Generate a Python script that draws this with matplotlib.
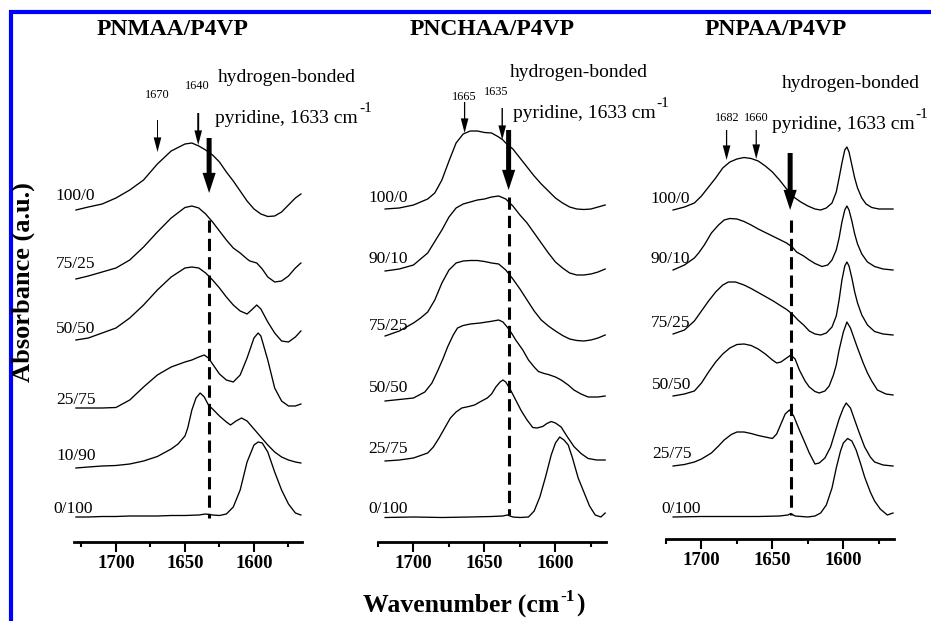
import numpy as np
import matplotlib
matplotlib.use("Agg")
import matplotlib.pyplot as plt
from matplotlib.lines import Line2D

plt.rcParams['font.family'] = ['Liberation Serif', 'DejaVu Serif']

# ---------------- data ----------------
panel_titles = ["PNMAA/P4VP", "PNCHAA/P4VP", "PNPAA/P4VP"]
major_ticks = [1700, 1650, 1600]
minor_ticks = [1725, 1675, 1625, 1575]
tick_labels = ["1700", "1650", "1600"]

pnmaa_ratios = ["100/0", "75/25", "50/50", "25/75", "10/90", "0/100"]
pnchaa_ratios = ["100/0", "90/10", "75/25", "50/50", "25/75", "0/100"]
pnpaa_ratios = ["100/0", "90/10", "75/25", "50/50", "25/75", "0/100"]

# peak markers (label text, wavenumber where the arrow points)
pnmaa_peak_labels = ["1670", "1640"]
pnmaa_peak_wn = [1669.9, 1640.4]
pnchaa_peak_labels = ["1665", "1635"]
pnchaa_peak_wn = [1664.0, 1637.5]
pnpaa_peak_labels = ["1682", "1660"]
pnpaa_peak_wn = [1682.3, 1661.4]
hbond_wn = [1632.5, 1633.0, 1637.0]   # thick arrow / dashed line per panel

# ---- PNMAA/P4VP (stacked absorbance, a.u.) ----
pnmaa_100_0_wn = [1729, 1720, 1710, 1700, 1690, 1680, 1670, 1660, 1650, 1645, 1640, 1635, 1630, 1625,
                  1620, 1615, 1610, 1605, 1600, 1595, 1590, 1585, 1580, 1575, 1570, 1566]
pnmaa_100_0_abs = [3.32, 3.35, 3.38, 3.44, 3.52, 3.62, 3.78, 3.91, 3.98, 3.99, 3.96, 3.92, 3.87, 3.80,
                   3.70, 3.61, 3.51, 3.41, 3.33, 3.28, 3.255, 3.26, 3.30, 3.37, 3.44, 3.48]
pnmaa_75_25_wn = [1729, 1720, 1710, 1700, 1690, 1680, 1670, 1660, 1650, 1645, 1640, 1635, 1630, 1625,
                  1620, 1615, 1610, 1605, 1603, 1598, 1594, 1590, 1585, 1580, 1575, 1570, 1566]
pnmaa_75_25_abs = [2.63, 2.66, 2.70, 2.74, 2.82, 2.95, 3.10, 3.24, 3.345, 3.36, 3.34, 3.28, 3.20, 3.11,
                   3.02, 2.94, 2.89, 2.83, 2.81, 2.79, 2.73, 2.65, 2.60, 2.61, 2.66, 2.74, 2.79]
pnmaa_50_50_wn = [1729, 1720, 1710, 1700, 1690, 1680, 1670, 1660, 1650, 1645, 1640, 1635, 1630, 1625,
                  1620, 1615, 1610, 1605, 1601, 1598, 1595, 1590, 1585, 1580, 1575, 1570, 1566]
pnmaa_50_50_abs = [2.02, 2.04, 2.09, 2.14, 2.24, 2.37, 2.52, 2.65, 2.74, 2.75, 2.74, 2.69, 2.62, 2.54,
                   2.45, 2.37, 2.31, 2.28, 2.33, 2.37, 2.33, 2.20, 2.09, 2.01, 2.00, 2.05, 2.11]
pnmaa_25_75_wn = [1729, 1720, 1710, 1700, 1690, 1680, 1670, 1660, 1650, 1645, 1640, 1636, 1633, 1630,
                  1625, 1620, 1615, 1610, 1605, 1600, 1597, 1595, 1590, 1585, 1580, 1575, 1570, 1566]
pnmaa_25_75_abs = [1.34, 1.34, 1.34, 1.345, 1.42, 1.55, 1.67, 1.75, 1.80, 1.82, 1.85, 1.87, 1.84, 1.78,
                   1.68, 1.62, 1.60, 1.67, 1.84, 2.04, 2.09, 2.06, 1.82, 1.54, 1.41, 1.36, 1.36, 1.38]
pnmaa_10_90_wn = [1729, 1720, 1710, 1700, 1690, 1680, 1670, 1660, 1655, 1650, 1648, 1645, 1642, 1639,
                  1636, 1633, 1630, 1625, 1620, 1617, 1613, 1609, 1605, 1600, 1595, 1590, 1585, 1580,
                  1575, 1570, 1566]
pnmaa_10_90_abs = [0.74, 0.75, 0.76, 0.765, 0.78, 0.81, 0.855, 0.93, 0.98, 1.06, 1.14, 1.32, 1.44, 1.49,
                   1.45, 1.37, 1.33, 1.26, 1.20, 1.17, 1.21, 1.24, 1.21, 1.13, 1.05, 0.97, 0.90, 0.85,
                   0.82, 0.80, 0.79]
pnmaa_0_100_wn = [1729, 1720, 1710, 1700, 1690, 1680, 1670, 1660, 1650, 1640, 1635, 1630, 1625, 1620,
                  1615, 1610, 1605, 1600, 1597, 1594, 1590, 1585, 1580, 1575, 1570, 1566]
pnmaa_0_100_abs = [0.25, 0.25, 0.255, 0.255, 0.26, 0.26, 0.26, 0.265, 0.265, 0.27, 0.28, 0.27, 0.265, 0.28,
                   0.35, 0.52, 0.80, 0.97, 1.00, 0.99, 0.90, 0.70, 0.52, 0.38, 0.29, 0.27]

# ---- PNCHAA/P4VP ----
pnchaa_100_0_wn = [1720, 1710, 1700, 1690, 1685, 1680, 1675, 1670, 1665, 1660, 1655, 1650, 1645, 1640,
                   1637, 1635, 1630, 1625, 1620, 1615, 1610, 1605, 1600, 1595, 1590, 1585, 1580, 1575,
                   1570, 1565]
pnchaa_100_0_abs = [3.33, 3.34, 3.37, 3.43, 3.49, 3.62, 3.81, 3.99, 4.08, 4.11, 4.11, 4.095, 4.09, 4.05,
                    4.02, 3.99, 3.93, 3.84, 3.75, 3.66, 3.58, 3.51, 3.44, 3.39, 3.35, 3.33, 3.325, 3.33,
                    3.35, 3.37]
pnchaa_90_10_wn = [1720, 1710, 1700, 1690, 1680, 1675, 1670, 1665, 1660, 1655, 1650, 1645, 1640, 1635,
                   1630, 1625, 1620, 1615, 1610, 1605, 1600, 1595, 1590, 1585, 1580, 1575, 1570, 1565]
pnchaa_90_10_abs = [2.71, 2.73, 2.77, 2.89, 3.12, 3.25, 3.34, 3.38, 3.40, 3.42, 3.43, 3.45, 3.46, 3.43,
                    3.36, 3.27, 3.19, 3.09, 2.99, 2.89, 2.80, 2.74, 2.69, 2.67, 2.67, 2.68, 2.70, 2.73]
pnchaa_75_25_wn = [1720, 1710, 1700, 1695, 1690, 1685, 1680, 1675, 1670, 1665, 1660, 1655, 1650, 1645,
                   1640, 1635, 1630, 1625, 1620, 1615, 1610, 1605, 1600, 1595, 1590, 1585, 1580, 1575,
                   1570, 1565]
pnchaa_75_25_abs = [2.06, 2.11, 2.19, 2.24, 2.30, 2.42, 2.59, 2.72, 2.79, 2.81, 2.815, 2.815, 2.805, 2.79,
                    2.78, 2.72, 2.63, 2.53, 2.42, 2.31, 2.22, 2.16, 2.11, 2.065, 2.03, 2.015, 2.01, 2.02,
                    2.04, 2.07]
pnchaa_50_50_wn = [1720, 1710, 1700, 1692, 1687, 1683, 1679, 1676, 1672, 1669, 1665, 1660, 1653, 1646,
                   1640, 1637, 1634, 1631, 1628, 1623, 1619, 1615, 1612, 1608, 1605, 1600, 1596, 1591,
                   1587, 1582, 1577, 1570, 1565]
pnchaa_50_50_abs = [1.41, 1.425, 1.44, 1.50, 1.59, 1.71, 1.84, 1.95, 2.07, 2.14, 2.165, 2.18, 2.19, 2.205,
                    2.22, 2.20, 2.15, 2.09, 2.02, 1.92, 1.82, 1.75, 1.705, 1.685, 1.675, 1.65, 1.62, 1.57,
                    1.52, 1.48, 1.45, 1.45, 1.46]
pnchaa_25_75_wn = [1720, 1710, 1700, 1690, 1686, 1682, 1678, 1674, 1670, 1666, 1661, 1657, 1652, 1648,
                   1645, 1642, 1639, 1637, 1635, 1632, 1628, 1624, 1620, 1616, 1613, 1609, 1606, 1603,
                   1600, 1596, 1592, 1587, 1582, 1577, 1571, 1565]
pnchaa_25_75_abs = [0.81, 0.82, 0.84, 0.89, 0.95, 1.04, 1.14, 1.24, 1.30, 1.34, 1.355, 1.37, 1.41, 1.44,
                    1.48, 1.55, 1.60, 1.62, 1.60, 1.53, 1.42, 1.31, 1.22, 1.145, 1.14, 1.155, 1.185, 1.205,
                    1.19, 1.15, 1.06, 0.955, 0.885, 0.835, 0.82, 0.82]
pnchaa_0_100_wn = [1720, 1700, 1680, 1660, 1645, 1637, 1634, 1630, 1625, 1619, 1615, 1611, 1607, 1603,
                   1600, 1597, 1594, 1591, 1588, 1584, 1580, 1576, 1572, 1568, 1565]
pnchaa_0_100_abs = [0.245, 0.25, 0.245, 0.25, 0.255, 0.26, 0.27, 0.25, 0.245, 0.25, 0.31, 0.45, 0.65, 0.87,
                    0.99, 1.05, 1.02, 0.97, 0.84, 0.64, 0.50, 0.36, 0.27, 0.25, 0.29]

# ---- PNPAA/P4VP ----
pnpaa_100_0_wn = [1720, 1712, 1705, 1700, 1695, 1690, 1685, 1680, 1675, 1670, 1665, 1660, 1655, 1650,
                  1645, 1640, 1635, 1630, 1625, 1620, 1616, 1612, 1608, 1605, 1603, 1601, 1599, 1597.5,
                  1596, 1594, 1592, 1590, 1587, 1584, 1580, 1575, 1570, 1565]
pnpaa_100_0_abs = [3.32, 3.35, 3.39, 3.46, 3.55, 3.64, 3.74, 3.80, 3.83, 3.845, 3.835, 3.81, 3.76, 3.70,
                   3.62, 3.53, 3.45, 3.40, 3.36, 3.33, 3.32, 3.34, 3.39, 3.50, 3.64, 3.79, 3.92, 3.95,
                   3.90, 3.77, 3.64, 3.54, 3.44, 3.38, 3.345, 3.33, 3.33, 3.33]
pnpaa_90_10_wn = [1720, 1712, 1705, 1702, 1698, 1693, 1688, 1684, 1680, 1675, 1670, 1665, 1660, 1655,
                  1650, 1645, 1640, 1636, 1633, 1628, 1624, 1620, 1615, 1611, 1608, 1605, 1603, 1601,
                  1599, 1597.5, 1596, 1594, 1592, 1590, 1587, 1583, 1578, 1572, 1565]
pnpaa_90_10_abs = [2.72, 2.77, 2.84, 2.89, 2.97, 3.09, 3.17, 3.22, 3.235, 3.23, 3.205, 3.17, 3.13, 3.095,
                   3.06, 3.025, 2.99, 2.95, 2.90, 2.86, 2.82, 2.785, 2.755, 2.77, 2.82, 2.92, 3.04, 3.20,
                   3.32, 3.36, 3.32, 3.21, 3.08, 2.98, 2.88, 2.80, 2.755, 2.73, 2.72]
pnpaa_75_25_wn = [1720, 1712, 1705, 1700, 1695, 1690, 1685, 1681, 1676, 1670, 1665, 1660, 1655, 1650,
                  1645, 1640, 1636, 1632, 1628, 1624, 1620, 1616, 1612, 1608, 1605, 1603, 1601, 1599,
                  1597.5, 1596, 1594, 1592, 1590, 1587, 1583, 1578, 1572, 1565]
pnpaa_75_25_abs = [2.08, 2.12, 2.21, 2.31, 2.41, 2.50, 2.57, 2.60, 2.60, 2.57, 2.535, 2.495, 2.455, 2.415,
                   2.37, 2.325, 2.28, 2.22, 2.17, 2.11, 2.08, 2.07, 2.09, 2.15, 2.26, 2.42, 2.62, 2.76,
                   2.80, 2.76, 2.64, 2.50, 2.39, 2.27, 2.17, 2.105, 2.08, 2.07]
pnpaa_50_50_wn = [1720, 1712, 1705, 1700, 1695, 1690, 1685, 1680, 1675, 1670, 1665, 1660, 1655, 1650,
                  1647, 1644, 1640, 1637, 1634, 1631, 1627, 1624, 1620, 1617, 1613, 1610, 1607, 1605,
                  1603, 1600, 1597.5, 1595, 1592, 1590, 1586, 1583, 1580, 1576, 1570, 1565]
pnpaa_50_50_abs = [1.46, 1.48, 1.51, 1.59, 1.70, 1.80, 1.88, 1.94, 1.975, 1.98, 1.965, 1.93, 1.88, 1.82,
                   1.79, 1.80, 1.84, 1.87, 1.83, 1.72, 1.61, 1.55, 1.505, 1.49, 1.51, 1.56, 1.67, 1.77,
                   1.92, 2.10, 2.20, 2.14, 2.02, 1.94, 1.79, 1.69, 1.61, 1.52, 1.48, 1.47]
pnpaa_25_75_wn = [1720, 1712, 1705, 1700, 1693, 1688, 1684, 1679, 1675, 1670, 1665, 1660, 1655, 1650,
                  1647, 1644, 1641, 1638, 1635, 1631, 1627, 1624, 1620, 1617, 1613, 1609, 1606, 1603,
                  1600, 1598, 1595, 1592, 1589, 1585, 1581, 1578, 1572, 1565]
pnpaa_25_75_abs = [0.76, 0.775, 0.80, 0.83, 0.89, 0.96, 1.02, 1.075, 1.10, 1.10, 1.085, 1.065, 1.05, 1.035,
                   1.08, 1.18, 1.28, 1.32, 1.26, 1.12, 0.99, 0.89, 0.78, 0.79, 0.84, 0.95, 1.09, 1.23,
                   1.34, 1.39, 1.34, 1.22, 1.10, 0.95, 0.85, 0.80, 0.77, 0.76]
pnpaa_0_100_wn = [1720, 1700, 1680, 1660, 1645, 1639, 1637, 1634, 1625, 1620, 1616, 1612, 1608, 1605,
                  1602, 1600, 1597, 1594, 1591, 1588, 1585, 1581, 1578, 1574, 1569, 1565]
pnpaa_0_100_abs = [0.25, 0.255, 0.255, 0.255, 0.26, 0.27, 0.285, 0.26, 0.25, 0.26, 0.29, 0.37, 0.54, 0.74,
                   0.91, 0.99, 1.035, 1.01, 0.92, 0.79, 0.65, 0.50, 0.41, 0.33, 0.27, 0.29]

# ---------------- figure layout ----------------
W, H = 931, 621
fig = plt.figure(figsize=(W / 100, H / 100), dpi=100)
fig.patch.set_facecolor('white')


def fx(px):
    return px / W


def fy(py):
    return 1 - py / H


panels = [
    dict(title=panel_titles[0], title_x=172.5, left=74, bottom=542, xlim=(1730.4, 1565.2), ylim=(0.0, 4.82),
         curves=[(pnmaa_100_0_wn, pnmaa_100_0_abs), (pnmaa_75_25_wn, pnmaa_75_25_abs),
                 (pnmaa_50_50_wn, pnmaa_50_50_abs), (pnmaa_25_75_wn, pnmaa_25_75_abs),
                 (pnmaa_10_90_wn, pnmaa_10_90_abs), (pnmaa_0_100_wn, pnmaa_0_100_abs)],
         ratios=pnmaa_ratios,
         label_x=[1743.5, 1743.5, 1743.5, 1743.5, 1743.0, 1745.5],
         label_y=[3.42, 2.74, 2.09, 1.38, 0.82, 0.29],
         peak_labels=pnmaa_peak_labels, peak_wn=pnmaa_peak_wn,
         peak_label_pos=[(1669.9, 4.47), (1640.9, 4.56)],
         peak_arrow_y=[(4.22, 3.90), (4.29, 3.97)], peak_arrow_w=[0.07, 0.14],
         hb=hbond_wn[0], hb_dash_wn=hbond_wn[0], hb_arrow=(4.04, 3.49), hb_dash=(3.22, 0.24),
         hb_text1=(1626.1, 4.60), hb_text2=(1628.3, 4.19)),
    dict(title=panel_titles[1], title_x=491.7, left=378, bottom=542, xlim=(1720.5, 1564.4), ylim=(0.0, 4.82),
         curves=[(pnchaa_100_0_wn, pnchaa_100_0_abs), (pnchaa_90_10_wn, pnchaa_90_10_abs),
                 (pnchaa_75_25_wn, pnchaa_75_25_abs), (pnchaa_50_50_wn, pnchaa_50_50_abs),
                 (pnchaa_25_75_wn, pnchaa_25_75_abs), (pnchaa_0_100_wn, pnchaa_0_100_abs)],
         ratios=pnchaa_ratios,
         label_x=[1731.7] * 6,
         label_y=[3.40, 2.79, 2.12, 1.50, 0.89, 0.29],
         peak_labels=pnchaa_peak_labels, peak_wn=pnchaa_peak_wn,
         peak_label_pos=[(1664.4, 4.45), (1641.8, 4.50)],
         peak_arrow_y=[(4.40, 4.09), (4.34, 4.02)], peak_arrow_w=[0.09, 0.10],
         hb=hbond_wn[1], hb_dash_wn=hbond_wn[1], hb_arrow=(4.12, 3.52), hb_dash=(3.45, 0.27),
         hb_text1=(1632.2, 4.65), hb_text2=(1630.1, 4.24)),
    dict(title=panel_titles[2], title_x=775.8, left=666, bottom=539, xlim=(1721.2, 1564.3), ylim=(0.03, 4.82),
         curves=[(pnpaa_100_0_wn, pnpaa_100_0_abs), (pnpaa_90_10_wn, pnpaa_90_10_abs),
                 (pnpaa_75_25_wn, pnpaa_75_25_abs), (pnpaa_50_50_wn, pnpaa_50_50_abs),
                 (pnpaa_25_75_wn, pnpaa_25_75_abs), (pnpaa_0_100_wn, pnpaa_0_100_abs)],
         ratios=pnpaa_ratios,
         label_x=[1735.7, 1735.7, 1735.7, 1735.0, 1734.6, 1728.1],
         label_y=[3.39, 2.79, 2.15, 1.53, 0.84, 0.29],
         peak_labels=pnpaa_peak_labels, peak_wn=pnpaa_peak_wn,
         peak_label_pos=[(1682.2, 4.24), (1661.6, 4.24)],
         peak_arrow_y=[(4.12, 3.82), (4.12, 3.83)], peak_arrow_w=[0.09, 0.09],
         hb=1637.5, hb_dash_wn=hbond_wn[2], hb_arrow=(3.89, 3.32), hb_dash=(3.22, 0.27),
         hb_text1=(1643.7, 4.54), hb_text2=(1650.5, 4.13)),
]

axes = []
for p in panels:
    ax = fig.add_axes([fx(p['left']), fy(p['bottom']), fx(228), (p['bottom'] - 60) / H])
    axes.append(ax)
    ax.set_facecolor('none')
    ax.set_xlim(*p['xlim'])
    ax.set_ylim(*p['ylim'])
    for s in ['left', 'right', 'top']:
        ax.spines[s].set_visible(False)
    ax.spines['bottom'].set_linewidth(2.0)
    ax.set_yticks([])
    ax.set_xticks(major_ticks, labels=tick_labels, fontweight='bold', fontsize=13.5)
    ax.set_xticks(minor_ticks, minor=True)
    ax.tick_params(axis='x', which='major', direction='out', length=7.2, width=1.5, pad=2.5)
    ax.tick_params(axis='x', which='minor', direction='out', length=3.6, width=1.5)

    for (wn, ab) in p['curves']:
        ax.plot(wn, ab, color='black', lw=0.95, solid_joinstyle='round')

    for lab, lx, ly in zip(p['ratios'], p['label_x'], p['label_y']):
        ax.text(lx, ly, lab, ha='left', va='baseline', fontsize=12.5, clip_on=False)

    # small peak arrows
    for lab, w, lxy, (yt, yh), tw in zip(p['peak_labels'], p['peak_wn'], p['peak_label_pos'],
                                         p['peak_arrow_y'], p['peak_arrow_w']):
        ax.annotate('', xy=(w, yh), xytext=(w, yt), xycoords='data', annotation_clip=False,
                    arrowprops=dict(arrowstyle=f'simple,head_length=1.05,head_width=0.55,tail_width={tw}',
                                    mutation_scale=10, color='black', lw=0, shrinkA=0, shrinkB=0))
        ax.text(lxy[0], lxy[1], lab, ha='center', va='center', fontsize=8.8, clip_on=False)

    # thick arrow for hydrogen-bonded pyridine
    ax.annotate('', xy=(p['hb'], p['hb_arrow'][1]), xytext=(p['hb'], p['hb_arrow'][0]), xycoords='data',
                annotation_clip=False,
                arrowprops=dict(arrowstyle='simple,head_length=1.45,head_width=0.95,tail_width=0.36',
                                mutation_scale=10, color='black', lw=0, shrinkA=0, shrinkB=0))
    dw = p['hb_dash_wn']
    ax.plot([dw, dw], list(p['hb_dash']), color='black', lw=2.2, ls=(0, (4, 2)), dash_capstyle='butt')

    ax.text(p['hb_text1'][0], p['hb_text1'][1], 'hydrogen-bonded', ha='left', va='baseline',
            fontsize=14, clip_on=False)
    t2 = ax.text(p['hb_text2'][0], p['hb_text2'][1], 'pyridine, 1633 cm', ha='left', va='baseline',
                 fontsize=14, clip_on=False)
    ax.annotate('-1', xy=(1, 0), xycoords=t2, xytext=(1.0, 11.0), textcoords='offset points',
                ha='left', va='baseline', fontsize=11, annotation_clip=False)

    fig.text(fx(p['title_x']), fy(35), p['title'], ha='center', va='baseline', fontsize=17,
             fontweight='bold')

# x label with a raised "-1"
xl = fig.text(fx(363), fy(612), 'Wavenumber (cm', ha='left', va='baseline',
              fontsize=18.5, fontweight='bold')
sup = axes[1].annotate('-1', xy=(1, 0), xycoords=xl, xytext=(1.0, 11.5), textcoords='offset points',
                       ha='left', va='baseline', fontsize=12.5, fontweight='bold', annotation_clip=False)
axes[1].annotate(')', xy=(1, 0), xycoords=(sup, xl), xytext=(0.5, 0), textcoords='offset points',
                 ha='left', va='bottom', fontsize=18.5, fontweight='bold', annotation_clip=False)

fig.text(fx(23), fy(282), 'Absorbance (a.u.)', rotation=90, ha='center', va='center',
         fontsize=19, fontweight='bold')

# blue frame on the left and top edges
fig.add_artist(Line2D([fx(10.5), fx(10.5)], [0, fy(9.5)], transform=fig.transFigure,
                      color='#0000ff', lw=3.0, solid_capstyle='butt'))
fig.add_artist(Line2D([fx(9.0), 1], [fy(11.5), fy(11.5)], transform=fig.transFigure,
                      color='#0000ff', lw=3.0, solid_capstyle='butt'))

fig.savefig('out.png', dpi=100)
